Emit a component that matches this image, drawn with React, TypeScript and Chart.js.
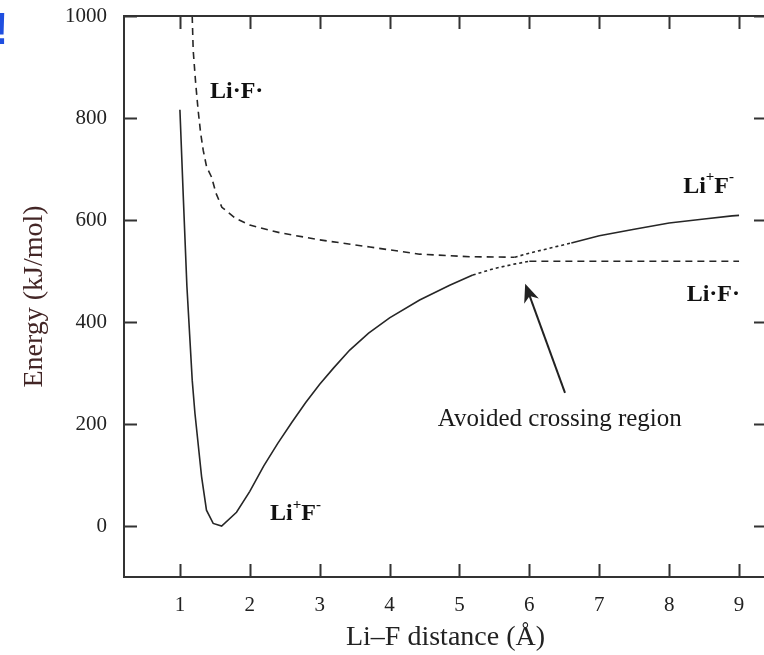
import React, { useEffect, useRef } from "react";
import { Chart, registerables } from "chart.js";

Chart.register(...registerables);

// ---- Data ----
const xTicks = [1, 2, 3, 4, 5, 6, 7, 8, 9];
const yTicks = [0, 200, 400, 600, 800, 1000];

// Ionic Li+F- curve, solid part (lower branch)
const ionicX = [1.0, 1.05, 1.1, 1.176, 1.215, 1.31, 1.38, 1.476, 1.597, 1.81, 2.0, 2.2, 2.4, 2.6, 2.8, 3.0, 3.2, 3.43, 3.7, 4.0, 4.43, 4.86, 5.19];
const ionicE = [816, 640, 470, 286, 221, 97, 31, 5, 0, 27, 68, 118, 162, 203, 242, 278, 310, 345, 378, 408, 443, 472, 492];

// Lower branch through the avoided crossing (dotted)
const lowerCrossX = [5.19, 5.5, 5.8, 6.0];
const lowerCrossE = [492, 505, 514, 519];

// Covalent Li·F· asymptote (dashed, right)
const covalentFlatX = [6.0, 9.0];
const covalentFlatE = [519, 519];

// Covalent Li·F· curve (dashed, upper branch)
const covalentX = [1.176, 1.19, 1.225, 1.26, 1.296, 1.333, 1.382, 1.453, 1.515, 1.6, 1.79, 2.0, 2.43, 3.0, 3.72, 4.43, 5.15, 5.79];
const covalentE = [1000, 933, 869, 816, 771, 737, 704, 684, 653, 625, 604, 590, 575, 561, 547, 533, 528, 527];

// Upper branch through the avoided crossing (dotted)
const upperCrossX = [5.79, 6.0, 6.3, 6.6];
const upperCrossE = [527, 535, 545, 555];

// Ionic Li+F- asymptotic part (solid, upper right)
const ionicFarX = [6.6, 7.0, 7.5, 8.0, 8.5, 8.9, 9.0];
const ionicFarE = [555, 569, 582, 594, 602, 608, 609];

const SERIF = '"Liberation Serif", "Times New Roman", serif';
const INK = "#262626";

const pts = (xs: number[], ys: number[]) => xs.map((x, i) => ({ x, y: ys[i] }));

const framePlugin = {
  id: "frameAndNotes",
  afterDraw(chart: any) {
    const { ctx, chartArea, scales } = chart;
    const xs = scales.x;
    const ys = scales.y;
    const { left, right, top, bottom } = chartArea;
    const TL = 13;
    ctx.save();
    // frame
    ctx.strokeStyle = "#333";
    ctx.lineWidth = 2;
    ctx.setLineDash([]);
    ctx.beginPath();
    ctx.moveTo(left, top);
    ctx.lineTo(right, top);
    ctx.moveTo(left, bottom);
    ctx.lineTo(right, bottom);
    ctx.moveTo(left, top - 1);
    ctx.lineTo(left, bottom + 1);
    ctx.moveTo(right, top);
    ctx.lineTo(right, bottom);
    ctx.stroke();
    // inward ticks
    ctx.beginPath();
    xTicks.forEach((v) => {
      const px = Math.round(xs.getPixelForValue(v)) + 0.5;
      ctx.moveTo(px, bottom);
      ctx.lineTo(px, bottom - TL);
      ctx.moveTo(px, top);
      ctx.lineTo(px, top + TL);
    });
    yTicks.forEach((v) => {
      const py = Math.round(ys.getPixelForValue(v)) + 0.5;
      ctx.moveTo(left, py);
      ctx.lineTo(left + TL, py);
      ctx.moveTo(right, py);
      ctx.lineTo(right - TL, py);
    });
    ctx.stroke();

    // labels
    ctx.fillStyle = "#111";
    ctx.textBaseline = "middle";
    ctx.textAlign = "left";
    const bold = `bold 24px ${SERIF}`;
    const sup = `bold 15px ${SERIF}`;
    const drawPlain = (text: string, xv: number, yv: number) => {
      ctx.font = bold;
      ctx.fillText(text, xs.getPixelForValue(xv), ys.getPixelForValue(yv));
    };
    const drawIonic = (xv: number, yv: number) => {
      let x = xs.getPixelForValue(xv);
      const y = ys.getPixelForValue(yv);
      const parts: [string, boolean][] = [["Li", false], ["+", true], ["F", false], ["-", true]];
      parts.forEach(([t, s]) => {
        ctx.font = s ? sup : bold;
        ctx.fillText(t, x, s ? y - 9 : y);
        x += ctx.measureText(t).width;
      });
    };
    drawPlain("Li·F·", 1.43, 851);
    drawPlain("Li·F·", 8.25, 453);
    drawIonic(8.2, 666);
    drawIonic(2.29, 24);

    ctx.font = `25px ${SERIF}`;
    ctx.fillStyle = "#1a1a1a";
    ctx.fillText("Avoided crossing region", xs.getPixelForValue(4.69), ys.getPixelForValue(208));

    // arrow
    const tx = xs.getPixelForValue(5.94);
    const ty = ys.getPixelForValue(475);
    const sx = xs.getPixelForValue(6.51);
    const sy = ys.getPixelForValue(261);
    const ang = Math.atan2(ty - sy, tx - sx);
    const HL = 20;
    const notch = 13;
    ctx.strokeStyle = "#222";
    ctx.fillStyle = "#222";
    ctx.lineWidth = 2;
    ctx.beginPath();
    ctx.moveTo(sx, sy);
    ctx.lineTo(tx - notch * Math.cos(ang), ty - notch * Math.sin(ang));
    ctx.stroke();
    ctx.beginPath();
    ctx.moveTo(tx, ty);
    ctx.lineTo(tx - HL * Math.cos(ang - 0.4), ty - HL * Math.sin(ang - 0.4));
    ctx.lineTo(tx - notch * Math.cos(ang), ty - notch * Math.sin(ang));
    ctx.lineTo(tx - HL * Math.cos(ang + 0.4), ty - HL * Math.sin(ang + 0.4));
    ctx.closePath();
    ctx.fill();

    // clipped slide artifact at the top-left
    ctx.fillStyle = "#1f4fe0";
    ctx.font = `bold 44px "Liberation Sans", sans-serif`;
    ctx.textAlign = "center";
    ctx.textBaseline = "alphabetic";
    ctx.fillText("!", 1, 44);
    ctx.restore();
  },
};

export default function App() {
  const ref = useRef<HTMLCanvasElement | null>(null);
  useEffect(() => {
    if (!ref.current) return;
    const line = (data: any[], dash: number[]) => ({
      data,
      showLine: true,
      borderColor: INK,
      borderWidth: 1.6,
      borderDash: dash,
      pointRadius: 0,
      tension: 0,
      fill: false,
    });
    const chart = new Chart(ref.current, {
      type: "scatter",
      data: {
        datasets: [
          line(pts(ionicX, ionicE), []),
          line(pts(lowerCrossX, lowerCrossE), [3, 3]),
          line(pts(covalentFlatX, covalentFlatE), [7, 5]),
          line(pts(covalentX, covalentE), [7, 5]),
          line(pts(upperCrossX, upperCrossE), [3, 3]),
          line(pts(ionicFarX, ionicFarE), []),
        ],
      },
      options: {
        animation: false,
        responsive: false,
        layout: { padding: { top: 16, right: 13, left: 0, bottom: 0 } },
        plugins: { legend: { display: false }, tooltip: { enabled: false } },
        scales: {
          x: {
            type: "linear",
            min: 0.2,
            max: 9.4,
            grid: { display: false, drawTicks: false },
            border: { display: false },
            afterBuildTicks: (s: any) => {
              s.ticks = xTicks.map((v) => ({ value: v }));
            },
            afterFit: (s: any) => {
              s.height = 78;
              s.paddingLeft = 0;
              s.paddingRight = 0;
            },
            ticks: {
              font: { family: SERIF, size: 21 },
              color: "#222",
              padding: 16,
              maxRotation: 0,
              autoSkip: false,
              callback: (v: any) => String(v),
            },
            title: {
              display: true,
              text: "Li–F distance (Å)",
              font: { family: SERIF, size: 28 },
              color: "#222",
              padding: { top: 0, bottom: 1 },
            },
          },
          y: {
            type: "linear",
            min: -100,
            max: 1000,
            grid: { display: false, drawTicks: false },
            border: { display: false },
            afterBuildTicks: (s: any) => {
              s.ticks = yTicks.map((v) => ({ value: v }));
            },
            afterFit: (s: any) => {
              s.width = 124;
              s.paddingTop = 0;
              s.paddingBottom = 0;
            },
            ticks: {
              font: { family: SERIF, size: 21 },
              color: "#222",
              padding: 17,
              autoSkip: false,
              callback: (v: any) => String(v),
            },
            title: {
              display: true,
              text: "Energy (kJ/mol)",
              font: { family: SERIF, size: 28 },
              color: "#432626",
              padding: { top: 18, bottom: 0 },
            },
          },
        },
      },
      plugins: [framePlugin],
    });
    return () => chart.destroy();
  }, []);

  return (
    <div
      style={{
        position: "fixed",
        left: 0,
        top: 0,
        width: 764,
        height: 655,
        overflow: "hidden",
        background: "#fff",
      }}
    >
      <canvas ref={ref} width={780} height={655} style={{ width: 780, height: 655, display: "block" }} />
    </div>
  );
}
